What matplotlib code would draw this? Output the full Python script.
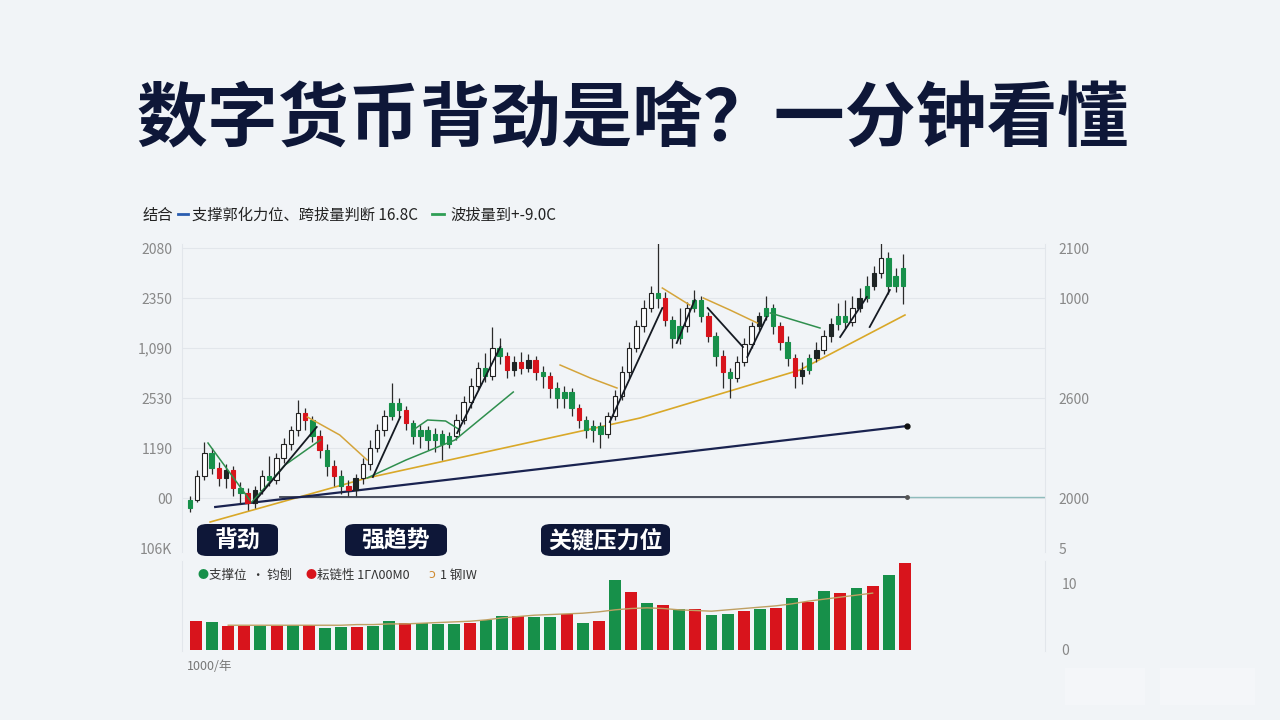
import matplotlib.pyplot as plt
from matplotlib.patches import FancyBboxPatch, Rectangle

plt.rcParams['font.family'] = ['Noto Sans CJK SC', 'DejaVu Sans']

# ---- candle data (price units) ----
opens = [40, 48, 72, 95, 80, 70, 78, 60, 55, 45, 58, 72, 68, 90, 104, 118, 135,
         128, 112, 98, 82, 72, 62, 58, 70, 84, 100, 118, 132, 145, 138, 125, 112,
         118, 108, 114, 104, 112, 128, 146, 162, 180, 172, 200, 192, 178, 186, 180,
         188, 176, 172, 160, 150, 156, 140, 128, 118, 122, 114, 132, 152, 176, 200,
         222, 240, 255, 250, 228, 210, 222, 240, 248, 232, 212, 192, 176, 170, 186,
         204, 222, 232, 240, 222, 206, 190, 172, 178, 190, 198, 212, 224, 232, 226,
         240, 250, 262, 275, 290, 262, 280]
closes = [48, 72, 95, 80, 70, 78, 60, 55, 45, 58, 72, 68, 90, 104, 118, 135, 128,
          112, 98, 82, 72, 62, 58, 70, 84, 100, 118, 132, 145, 138, 125, 112, 118,
          108, 114, 104, 112, 128, 146, 162, 180, 172, 200, 192, 178, 186, 180, 188,
          176, 172, 160, 150, 156, 140, 128, 118, 122, 114, 132, 152, 176, 200, 222,
          240, 255, 250, 228, 210, 222, 240, 248, 232, 212, 192, 176, 170, 186, 204,
          222, 232, 240, 222, 206, 190, 172, 178, 190, 198, 212, 224, 232, 226, 240,
          250, 262, 275, 290, 262, 272, 262]
highs = [52, 78, 106, 100, 86, 84, 82, 66, 60, 62, 78, 92, 95, 110, 122, 148, 140,
         132, 118, 104, 88, 78, 68, 74, 90, 108, 124, 138, 165, 150, 142, 128, 124,
         122, 120, 118, 116, 134, 152, 170, 186, 195, 221, 210, 196, 192, 196, 194,
         192, 182, 176, 166, 162, 160, 144, 132, 128, 126, 136, 158, 182, 206, 228,
         248, 262, 308, 256, 232, 240, 246, 258, 252, 236, 216, 198, 180, 192, 210,
         226, 236, 252, 244, 226, 212, 194, 186, 194, 206, 218, 230, 245, 248, 252,
         260, 272, 282, 305, 296, 280, 294]
lows = [36, 46, 68, 74, 62, 60, 52, 44, 38, 40, 54, 62, 64, 85, 98, 112, 118,
        106, 90, 72, 62, 54, 52, 52, 64, 78, 96, 112, 128, 130, 118, 104, 100,
        98, 96, 88, 100, 108, 124, 140, 158, 166, 168, 184, 170, 172, 174, 176,
        168, 160, 150, 140, 140, 132, 120, 110, 106, 100, 110, 128, 148, 170, 196,
        216, 236, 240, 222, 200, 204, 216, 236, 226, 206, 182, 160, 150, 166, 182,
        200, 218, 228, 214, 198, 182, 160, 164, 174, 186, 194, 206, 218, 220, 222,
        236, 246, 258, 270, 254, 256, 244]

# ---- overlay lines (candle index, price) ----
ma_green_x = [[2.5, 8.3], [8.6, 13.2, 18.1], [24.6, 30, 36.8, 44.9],
              [31, 33, 35.5, 37.5], [80.6, 87.5]]
ma_green_y = [[105, 48], [46, 83, 108], [70, 88, 108, 156],
              [118, 128, 127, 118], [235, 220]]
ma_black_x = [[8.8, 13.2, 17.6], [25.4, 29.2], [37.1, 43.1], [58.3, 65.6],
              [67.6, 70.1], [71.9, 76.8], [77.4, 80.1], [90.3, 94], [94.4, 97.2]]
ma_black_y = [[45, 83, 121], [71, 131], [115, 201], [126, 240],
              [205, 248], [240, 201], [191, 231], [211, 251], [221, 258]]
ma_gold_x = [[16.3, 20.8, 24.6], [51.4, 55.6, 59.3], [65.6, 69.4], [71.3, 75, 78.8]]
ma_gold_y = [[131, 113, 88], [183, 170, 160], [260, 243], [250, 238, 225]]

support_x = [3.5, 99.6]
support_y = [41, 122]
base_x = [12.5, 99.6, 118.75]
base_y = [51, 51, 51]
curve_x = [2.8, 24.6, 56.9, 62.5, 84.7, 99.3]
curve_y = [26, 70, 121, 130, 178, 233]

left_ticks = [0, 50, 100, 150, 200, 250, 300]
left_labels = ['106K', '00', '1190', '2530', '1,090', '2350', '2080']
right_ticks = [0, 50, 150, 250, 300]
right_labels = ['5', '2000', '2600', '1000', '2100']

# ---- volume ----
volume = [4.3, 4.2, 3.6, 3.6, 3.6, 3.6, 3.7, 3.7, 3.3, 3.4, 3.4, 3.6, 4.3, 4.0,
          4.0, 3.9, 3.9, 4.0, 4.5, 5.1, 5.1, 4.9, 4.9, 5.4, 4.0, 4.3, 10.4, 8.7,
          7.0, 6.7, 6.1, 6.1, 5.2, 5.4, 5.8, 6.1, 6.3, 7.8, 7.2, 8.8, 8.5, 9.3,
          9.6, 11.2, 13.0]
vol_up = 'RGRRGRGRGGRGGRGGGRGGRGGRGRGRGRGRGGRGRGRGRGRGR'
vol_ma = [3.7, 3.7, 3.7, 3.7, 3.7, 3.7, 3.7, 3.7, 3.8, 3.8, 3.9, 3.9, 4.0, 4.1,
          4.2, 4.3, 4.5, 4.8, 5.0, 5.2, 5.3, 5.4, 5.5, 5.7, 6.0, 6.2, 6.3, 6.2,
          6.0, 5.9, 5.8, 6.0, 6.2, 6.4, 6.6, 6.9, 7.3, 7.6, 7.9, 8.2, 8.5]

GREEN = '#17904a'
RED = '#d8141c'
NAVY = '#0e1738'
BG = '#f1f4f7'

fig = plt.figure(figsize=(12.8, 7.2), dpi=100, facecolor=BG)

# title
fig.text(0.494, 0.833, '数字货币背劲是啥？一分钟看懂', ha='center', va='center',
         fontsize=51, fontweight='black', color=NAVY)

# top legend
fig.text(143 / 1280, 1 - 215 / 720, '结合', fontsize=11, color='#222', va='center')
fig.add_artist(plt.Line2D([178 / 1280, 188 / 1280], [1 - 214 / 720] * 2, color='#2a5db0', lw=2))
fig.text(192 / 1280, 1 - 215 / 720, '支撑郭化力位、跨拔量判断 16.8C', fontsize=11, color='#222', va='center')
fig.add_artist(plt.Line2D([432 / 1280, 444 / 1280], [1 - 214 / 720] * 2, color='#2f9e55', lw=2))
fig.text(450 / 1280, 1 - 215 / 720, '波拔量到+-9.0C', fontsize=11, color='#222', va='center')

# ---- main price axes ----
ax = fig.add_axes([182 / 1280, 1 - 552 / 720, 863 / 1280, 308 / 720])
ax.set_facecolor(BG)
ax.set_xlim(-1.11, 118.75)
ax.set_ylim(-4, 304)
for t in left_ticks[1:]:
    ax.axhline(t, color='#e2e6eb', lw=0.8, zorder=0)
ax.set_yticks(left_ticks)
ax.set_yticklabels(left_labels)
ax.tick_params(axis='y', length=0, pad=7, labelsize=10, labelcolor='#888')
ax.set_xticks([])
for s in ['top', 'bottom']:
    ax.spines[s].set_visible(False)
for s in ['left', 'right']:
    ax.spines[s].set_color('#e2e6eb')

axr = ax.twinx()
axr.set_ylim(ax.get_ylim())
axr.set_yticks(right_ticks)
axr.set_yticklabels(right_labels)
axr.tick_params(axis='y', length=0, pad=10, labelsize=10, labelcolor='#888')
for s in axr.spines.values():
    s.set_visible(False)

# trend lines
ax.plot(curve_x, curve_y, color='#d9a828', lw=1.2, zorder=2)
ax.plot(base_x[:2], base_y[:2], color='#3d4250', lw=1.3, zorder=2)
ax.plot(base_x[1:], base_y[1:], color='#8fbcbc', lw=1.0, zorder=2)
ax.plot(support_x, support_y, color='#1a2350', lw=1.6, zorder=2)
ax.plot(support_x[-1], support_y[-1], 'o', color='#111', ms=3.5, zorder=3)
ax.plot(base_x[1], base_y[1], 'o', color='#555', ms=2.5, zorder=3)

# candles
for i in range(len(opens)):
    o, h, l, c = opens[i], highs[i], lows[i], closes[i]
    if c >= o and c - o >= 14:
        fc, ec = 'white', '#222'
    elif c >= o:
        fc, ec = ('#1e2424', '#1e2424') if i % 2 else (GREEN, GREEN)
    else:
        fc, ec = (RED, RED) if i % 2 == 0 else (GREEN, GREEN)
    ax.vlines(i, l, h, color='#2a2a2a', lw=0.9, zorder=4)
    ax.bar(i, max(abs(c - o), 1.5), bottom=min(o, c), width=0.6,
           color=fc, edgecolor=ec, linewidth=0.8, zorder=5)

for xs, ys in zip(ma_green_x, ma_green_y):
    ax.plot(xs, ys, color='#2f8f4e', lw=1.1, zorder=6)
for xs, ys in zip(ma_black_x, ma_black_y):
    ax.plot(xs, ys, color='#151a22', lw=1.3, zorder=6)
for xs, ys in zip(ma_gold_x, ma_gold_y):
    ax.plot(xs, ys, color='#d4a43a', lw=1.1, zorder=6)

# label boxes
for label, x0, x1 in [('背劲', 197, 278), ('强趋势', 345, 447), ('关键压力位', 541, 670)]:
    fig.patches.append(FancyBboxPatch((x0 / 1280, 1 - 556 / 720), (x1 - x0) / 1280, 32 / 720,
                                      boxstyle='round,pad=0,rounding_size=0.008',
                                      transform=fig.transFigure, facecolor=NAVY,
                                      edgecolor='none', zorder=10))
    fig.text((x0 + x1) / 2 / 1280, 1 - 541 / 720, label, ha='center', va='center',
             fontsize=16.5, fontweight='bold', color='white', zorder=11)

# ---- volume axes ----
axv = fig.add_axes([182 / 1280, 1 - 651 / 720, 863 / 1280, 90 / 720])
axv.set_facecolor(BG)
axv.set_xlim(-0.87, 52.7)
axv.set_ylim(-0.15, 13.3)
cols = [GREEN if k == 'G' else RED for k in vol_up]
axv.bar(range(len(volume)), volume, width=0.74, color=cols, zorder=3)
axv.plot(range(2, 2 + len(vol_ma)), vol_ma, color='#bfa063', lw=1.0, zorder=4)
axv.set_xticks([])
axv.set_yticks([])
for s in ['top', 'bottom']:
    axv.spines[s].set_visible(False)
for s in ['left', 'right']:
    axv.spines[s].set_color('#e2e6eb')
axvr = axv.twinx()
axvr.set_ylim(axv.get_ylim())
axvr.set_yticks([0, 10])
axvr.set_yticklabels(['0', '10'])
axvr.tick_params(axis='y', length=0, pad=12, labelsize=10, labelcolor='#888')
for s in axvr.spines.values():
    s.set_visible(False)

# volume legend
ly = 1 - 575 / 720
fig.text(197 / 1280, ly, '●', fontsize=8, color=GREEN, va='center')
fig.text(209 / 1280, ly, '支撑位  · 钧刨', fontsize=9, color='#333', va='center')
fig.text(305 / 1280, ly, '●', fontsize=8, color=RED, va='center')
fig.text(317 / 1280, ly, '耘链性 1ΓΛ00M0', fontsize=9, color='#333', va='center')
fig.text(428 / 1280, ly, 'ↄ', fontsize=9, color='#d08a30', va='center', family=['DejaVu Sans'])
fig.text(440 / 1280, ly, '1 钢IW', fontsize=9, color='#333', va='center')
fig.text(187 / 1280, 1 - 667 / 720, '1000/年', fontsize=9, color='#777', va='center')

# faint watermark boxes
for x0, x1 in [(1065, 1145), (1160, 1255)]:
    fig.patches.append(Rectangle((x0 / 1280, 1 - 705 / 720), (x1 - x0) / 1280, 37 / 720,
                                 transform=fig.transFigure, facecolor='#f4f6f9',
                                 edgecolor='none'))

fig.savefig('out.png', dpi=100, facecolor=BG)
